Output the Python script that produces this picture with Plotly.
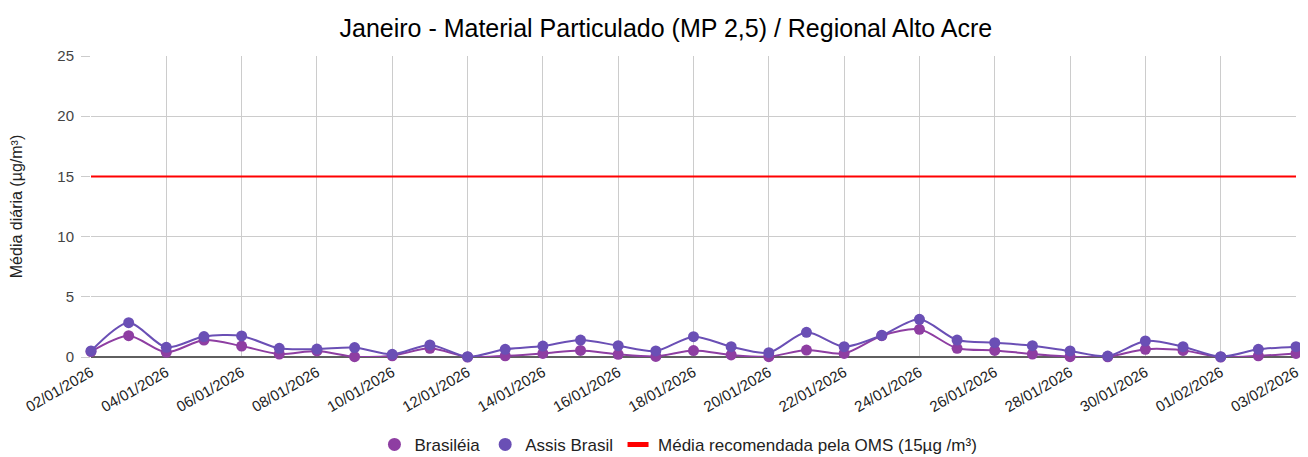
import plotly.graph_objects as go
import pandas as pd

dates = pd.date_range("2026-01-02", "2026-02-03", freq="D")

brasileia = [0.45, 1.77, 0.39, 1.41, 0.91, 0.25, 0.50, 0.03, 0.10, 0.72, 0.00,
             0.10, 0.30, 0.55, 0.22, 0.05, 0.53, 0.17, 0.03, 0.58, 0.30, 1.77,
             2.30, 0.72, 0.55, 0.25, 0.03, 0.02, 0.64, 0.55, 0.00, 0.10, 0.30]
assis = [0.50, 2.85, 0.80, 1.70, 1.75, 0.72, 0.66, 0.78, 0.22, 1.00, 0.03,
         0.64, 0.91, 1.41, 0.94, 0.50, 1.69, 0.86, 0.36, 2.05, 0.86, 1.80,
         3.13, 1.41, 1.19, 0.94, 0.50, 0.08, 1.33, 0.86, 0.03, 0.64, 0.86]
oms = [15] * len(dates)

names = ["Brasiléia", "Assis Brasil", "Média recomendada pela OMS (15µg /m³)"]
colors = ["#8E3EA2", "#6A4FB5", "#FF0000"]

font = "Liberation Sans, Arial, sans-serif"
fig = go.Figure()

fig.add_trace(go.Scatter(x=dates, y=oms, mode="lines", line=dict(color=colors[2], width=2),
                         showlegend=False, hoverinfo="skip"))
for vals, name, col in [(brasileia, names[0], colors[0]), (assis, names[1], colors[1])]:
    fig.add_trace(go.Scatter(x=dates, y=vals, mode="lines+markers", name=name,
                             line=dict(color=col, width=2, shape="spline", smoothing=0.8),
                             marker=dict(color=col, size=11), cliponaxis=False,
                             showlegend=False))

# legend entries
for name, col in [(names[0], colors[0]), (names[1], colors[1])]:
    fig.add_trace(go.Scatter(x=[None], y=[None], mode="markers", name=name,
                             marker=dict(color=col, size=13)))
fig.add_trace(go.Scatter(x=[None], y=[None], mode="markers", name=names[2],
                         marker=dict(symbol="line-ew", size=15,
                                     line=dict(color=colors[2], width=5))))

# the page body has an 8px default margin, so the figure is sized to fit the window
fig.update_layout(
    width=1300, height=449,
    margin=dict(l=83, r=12, t=48, b=100, autoexpand=False),
    paper_bgcolor="white", plot_bgcolor="white",
    font=dict(family=font, size=15, color="#222"),
    title=dict(text="Janeiro - Material Particulado (MP 2,5) / Regional Alto Acre",
               x=0.506, xanchor="center", y=0.9555, yanchor="middle",
               font=dict(family=font, size=25, color="#000")),
    legend=dict(orientation="h", x=0.4875, xanchor="center", y=-0.292, yanchor="middle",
                font=dict(family=font, size=17, color="#222"), itemwidth=30,
                traceorder="normal"),
    showlegend=True,
)
fig.update_xaxes(
    type="date", range=[dates[0], dates[-1]], automargin=False,
    tick0=dates[0], dtick=2 * 86400000, tickformat="%d/%m/%Y",
    tickangle=-30, showgrid=True, gridcolor="#cccccc", gridwidth=1,
    showline=False, zeroline=False, ticks="", ticklabelstandoff=3,
    tickfont=dict(family=font, size=15, color="#222"),
)
fig.update_yaxes(
    range=[0, 25], dtick=5, showgrid=True, gridcolor="#cccccc", gridwidth=1,
    zeroline=True, zerolinecolor="#5f5f5f", zerolinewidth=2, automargin=False,
    ticks="outside", ticklen=9, tickcolor="#cccccc", ticklabelstandoff=4,
    tickfont=dict(family=font, size=15, color="#444"),
    title=dict(text="Média diária (µg/m³)", font=dict(family=font, size=16, color="#222"),
               standoff=31),
)

fig.write_html("out.html")
